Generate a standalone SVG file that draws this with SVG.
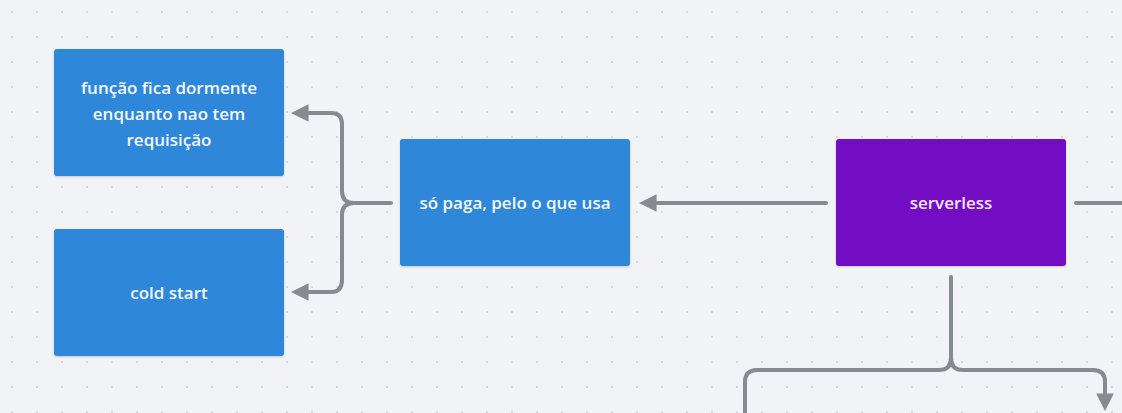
<svg xmlns="http://www.w3.org/2000/svg" width="1122" height="413" viewBox="0 0 1122 413">
<defs>
<pattern id="dots" x="0" y="0" width="25" height="25" patternUnits="userSpaceOnUse">
<circle cx="12" cy="12" r="0.9" fill="#c9ced6"/>
</pattern>
<marker id="arr" viewBox="0 0 10 10" refX="6" refY="5" markerWidth="4.4" markerHeight="4.4" orient="auto-start-reverse" markerUnits="strokeWidth">
<path d="M0,0 L10,5 L0,10 Z" fill="#868b92"/>
</marker>
<filter id="sh" x="-10%" y="-10%" width="120%" height="130%">
<feDropShadow dx="0" dy="1" stdDeviation="1.2" flood-color="#000" flood-opacity="0.18"/>
</filter>
</defs>
<style>
.blue{fill:#2e87d9;}
.purple{fill:#7211c4;}
.t{font-family:"Open Sans","Lato","Liberation Sans",sans-serif;font-size:17px;font-weight:600;fill:#f4f8fc;text-anchor:middle;}
.tp{fill:#f7e6ff;}
.c{fill:none;stroke:#868b92;stroke-width:4;stroke-linecap:round;stroke-linejoin:round;}
</style>
<rect width="1122" height="413" fill="#f1f3f6"/>
<rect width="1122" height="413" fill="url(#dots)"/>

<g id="connectors">
<path class="c" d="M391,203 H354 Q342,203 342,191 V124 Q342,113 331,113 H298" marker-end="url(#arr)"/>
<path class="c" d="M354,203 Q342,203 342,215 V280 Q342,292 331,292 H298" marker-end="url(#arr)"/>
<path class="c" d="M826,203 H646" marker-end="url(#arr)"/>
<path class="c" d="M1076,203 H1122"/>
<path class="c" d="M951,277 V358 Q951,370 939,370 H757 Q745,370 745,382 V415"/>
<path class="c" d="M951,358 Q951,370 963,370 H1093 Q1105,370 1105,382 V404" marker-end="url(#arr)"/>
</g>

<g id="node-dormente">
<rect class="blue" x="54" y="49" width="230" height="127" rx="3" filter="url(#sh)"/>
<text class="t" x="169" y="94">função fica dormente</text>
<text class="t" x="169" y="120">enquanto nao tem</text>
<text class="t" x="169" y="146">requisição</text>
</g>

<g id="node-cold">
<rect class="blue" x="54" y="229" width="230" height="127" rx="3" filter="url(#sh)"/>
<text class="t" x="169" y="299">cold start</text>
</g>

<g id="node-paga">
<rect class="blue" x="400" y="139" width="230" height="127" rx="3" filter="url(#sh)"/>
<text class="t" x="515" y="209">só paga, pelo o que usa</text>
</g>

<g id="node-serverless">
<rect class="purple" x="836" y="139" width="230" height="127" rx="3" filter="url(#sh)"/>
<text class="t tp" x="951" y="209">serverless</text>
</g>
</svg>
